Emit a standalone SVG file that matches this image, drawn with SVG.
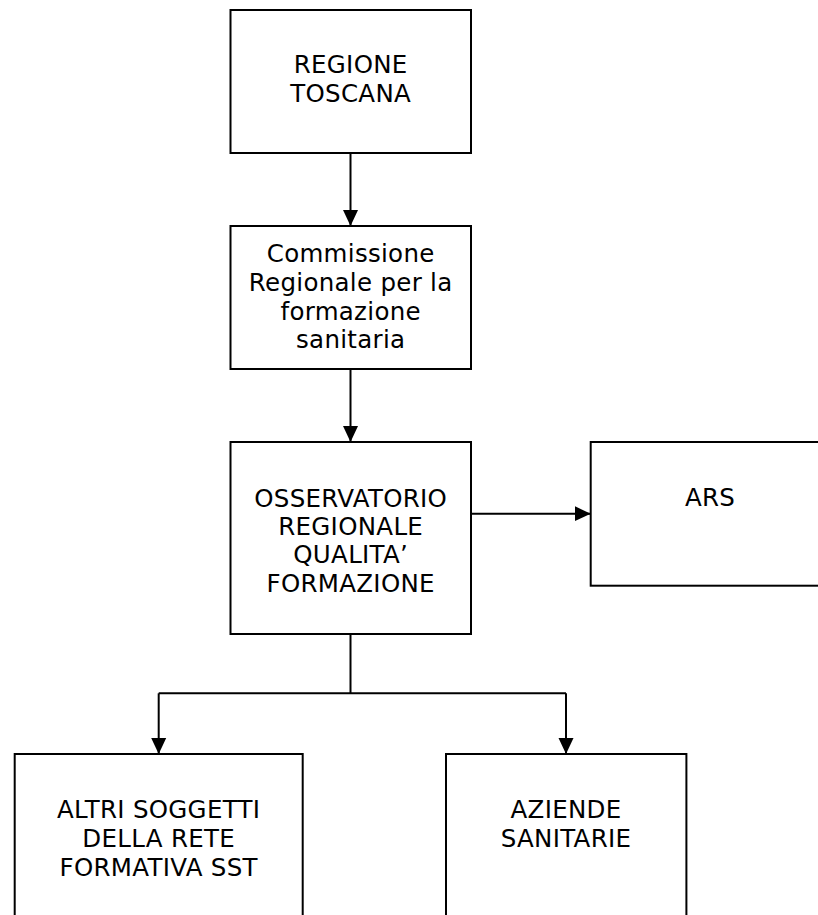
<svg xmlns="http://www.w3.org/2000/svg" width="818" height="915" viewBox="0 0 818 915">
<style>
  .box{fill:#ffffff;stroke:#000000;stroke-width:2}
  .lbl{font-family:"DejaVu Sans","Noto Sans",sans-serif;font-size:24.5px;letter-spacing:0.3px;fill:#000000;text-anchor:middle}
  .con{fill:none;stroke:#000000;stroke-width:2}
</style>
<defs>
  <marker id="arrow" markerUnits="userSpaceOnUse" markerWidth="16" markerHeight="16" refX="16" refY="8" orient="auto">
    <path d="M0,0.5 L16,8 L0,15.5 z" fill="#000000"/>
  </marker>
</defs>
<rect width="818" height="915" fill="#ffffff"/>
<g id="connectors">
  <line class="con" x1="350.5" y1="153" x2="350.5" y2="226" marker-end="url(#arrow)"/>
  <line class="con" x1="350.5" y1="369" x2="350.5" y2="442" marker-end="url(#arrow)"/>
  <line class="con" x1="470.5" y1="513.7" x2="590.7" y2="513.7" marker-end="url(#arrow)"/>
  <polyline class="con" points="350.5,634 350.5,693.3"/>
  <polyline class="con" points="158.7,693.3 566,693.3"/>
  <line class="con" x1="158.7" y1="693.3" x2="158.7" y2="754" marker-end="url(#arrow)"/>
  <line class="con" x1="566" y1="693.3" x2="566" y2="754" marker-end="url(#arrow)"/>
</g>
<g id="regione-toscana">
  <rect class="box" x="230.5" y="10" width="240.5" height="143"/>
  <text class="lbl" x="350.7" y="73">REGIONE</text>
  <text class="lbl" x="350.7" y="102">TOSCANA</text>
</g>
<g id="commissione">
  <rect class="box" x="230.5" y="226" width="240.5" height="143"/>
  <text class="lbl" x="350.7" y="261.7">Commissione</text>
  <text class="lbl" x="350.7" y="291">Regionale per la</text>
  <text class="lbl" x="350.7" y="320">formazione</text>
  <text class="lbl" x="350.7" y="348">sanitaria</text>
</g>
<g id="osservatorio">
  <rect class="box" x="230.5" y="442" width="240.5" height="192"/>
  <text class="lbl" x="350.7" y="506.7">OSSERVATORIO</text>
  <text class="lbl" x="350.7" y="535">REGIONALE</text>
  <text class="lbl" x="350.7" y="563.3">QUALITA’</text>
  <text class="lbl" x="350.7" y="591.7">FORMAZIONE</text>
</g>
<g id="ars">
  <rect class="box" x="590.7" y="442" width="240" height="143.7"/>
  <text class="lbl" x="710" y="506">ARS</text>
</g>
<g id="altri-soggetti">
  <rect class="box" x="14.7" y="754" width="288" height="170"/>
  <text class="lbl" x="158.7" y="818">ALTRI SOGGETTI</text>
  <text class="lbl" x="158.7" y="847">DELLA RETE</text>
  <text class="lbl" x="158.7" y="876">FORMATIVA SST</text>
</g>
<g id="aziende-sanitarie">
  <rect class="box" x="446" y="754" width="240.4" height="170"/>
  <text class="lbl" x="566" y="818">AZIENDE</text>
  <text class="lbl" x="566" y="847">SANITARIE</text>
</g>
</svg>
